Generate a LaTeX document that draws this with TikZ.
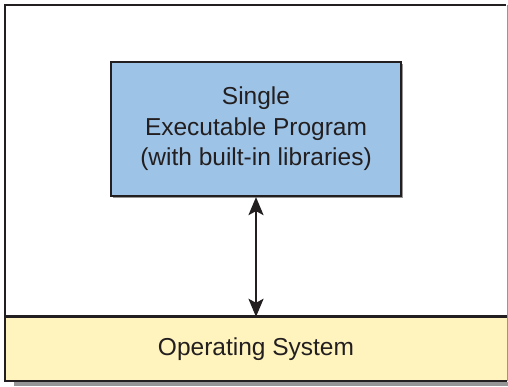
\documentclass[tikz,border=0pt]{standalone}
\usepackage{fontspec}
\setmainfont{Liberation Sans}
\usetikzlibrary{arrows.meta,shadows}
\definecolor{linecol}{RGB}{35,31,32}
\definecolor{progblue}{RGB}{157,195,230}
\definecolor{osyellow}{RGB}{255,243,190}
\definecolor{shadowgray}{RGB}{150,150,150}
\tikzset{
  boxtext/.style={font=\fontsize{24.5}{30.5}\selectfont, text=linecol, align=center, inner sep=0pt},
  progbox/.style={boxtext, draw=linecol, line width=2.2pt, fill=progblue,
    minimum width=290pt, minimum height=134pt,
    drop shadow={shadow xshift=2pt, shadow yshift=-2pt, fill=shadowgray, opacity=1}},
  osbox/.style={boxtext, fill=osyellow, minimum width=502pt, minimum height=64pt},
  frame/.style={draw=linecol, line width=2.8pt},
  link/.style={draw=linecol, line width=2.2pt, {Stealth[length=18pt,width=15pt,inset=4pt]}-{Stealth[length=18pt,width=15pt,inset=4pt]}}
}
\begin{document}
\begin{tikzpicture}[x=1pt,y=-1pt]
\useasboundingbox (0,0) rectangle (508,386);
\fill[shadowgray] (14,382) rectangle (508,386);
\node[osbox] (os) at (256,349) {Operating System};
\coordinate (tr) at (506,5);
\coordinate (tl) at (5,5);
\coordinate (bl) at (5,381);
\coordinate (br) at (507,381);
\draw[frame] (tr) -- (tl) -- (bl) -- (br);
\draw[shadowgray, line width=1pt] (507,5) -- (br);
\draw[frame] (os.north west) -- (os.north east);
\node[progbox] (prog) at (256,129) {Single\\Executable Program\\(with built-in libraries)};
\draw[link] (prog.south) -- (os.north);
\end{tikzpicture}
\end{document}
